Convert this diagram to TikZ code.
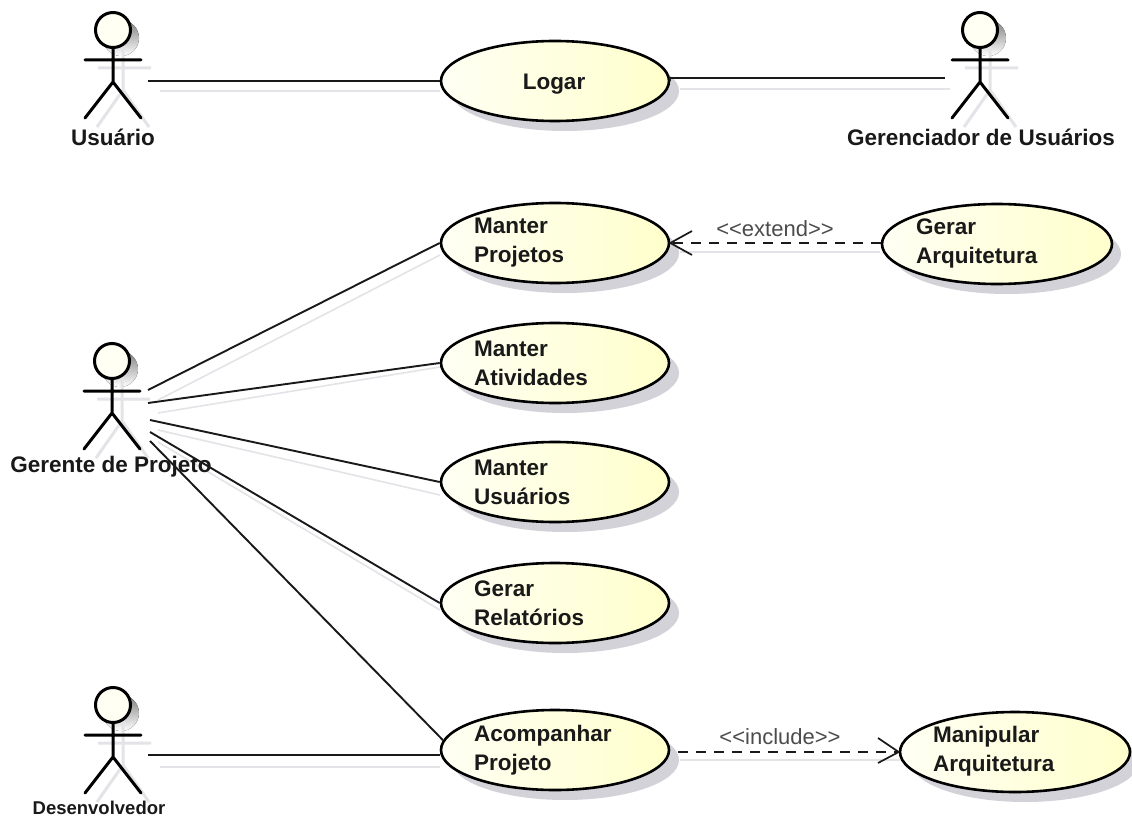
\documentclass[tikz,border=0pt]{standalone}
\usepackage{fontspec}
\setmainfont{Liberation Sans}
\usetikzlibrary{shapes.geometric,arrows.meta,shadings}
\definecolor{ink}{HTML}{000000}
\definecolor{shade}{HTML}{D2D2D8}
\definecolor{conshade}{HTML}{E4E4E8}
\definecolor{creamA}{HTML}{FFFFF4}
\definecolor{creamB}{HTML}{FFFFCC}
\tikzset{
  x=1pt,y=-1pt,
  usecase/.style={ellipse,draw=ink,line width=2.6pt,left color=creamA,right color=creamB,minimum width=228pt,minimum height=80pt,inner sep=0pt},
  ushadow/.style={ellipse,fill=shade,minimum width=228pt,minimum height=80pt,inner sep=0pt},
  uclabel/.style={font=\fontsize{22.5}{29}\selectfont\bfseries,align=left,anchor=west,text=black!90,inner sep=0pt},
  actorbox/.style={minimum width=70pt,minimum height=100pt,inner sep=0pt},
  actorlabel/.style={font=\fontsize{22.5}{26}\selectfont\bfseries,text=black!90,inner sep=0pt},
  assoc/.style={line width=1.9pt,draw=black!90},
  assocsh/.style={line width=1.6pt,draw=conshade},
  dep/.style={line width=1.8pt,draw=black!90,dash pattern=on 10pt off 8pt},
  stereo/.style={font=\fontsize{22}{26}\selectfont,text=black!70,inner sep=0pt},
  openhead/.style={line width=1.7pt,draw=black!90},
  limb/.style={line width=3pt,draw=black,line cap=round},
  limbsh/.style={line width=3pt,draw=conshade},
}
\newcommand{\actorfig}[2]{% x, y of head centre
  \begin{scope}[shift={(#1,#2)}]
    \fill[shade] (8,8) circle (18);
    \draw[limbsh] (10,10)--(10,60) (-15,38)--(38,38) (10,60)--(-16,97) (10,60)--(36,97);
    \draw[limb] (0,17)--(0,52) (-28,30)--(28,30) (0,52)--(-28,88) (0,52)--(28,88);
    \draw[limb,fill=creamA] (0,0) circle (17.5);
  \end{scope}}
\begin{document}
\begin{tikzpicture}
\useasboundingbox (0,0) rectangle (1132,821);
\fill[white] (0,0) rectangle (1132,821);

% shadows of use cases
\foreach \cx/\cy in {565/91,565/253,565/373,565/492,565/613,565/760,1007/254,1025/762}
  \node[ushadow] at (\cx,\cy) {};

% connector shadows
\draw[assocsh] (160,91)--(440,91);
\draw[assocsh] (680,89)--(950,89);
\draw[assocsh] (158,400)--(440,255);
\draw[assocsh] (158,413)--(440,367);
\draw[assocsh] (158,430)--(440,495);
\draw[assocsh] (158,442)--(440,610);
\draw[assocsh] (160,767)--(440,767);
\draw[assocsh] (680,252)--(880,252);
\draw[assocsh] (680,760)--(900,760);

% actors
\actorfig{113}{30}
\actorfig{980}{30}
\actorfig{112}{361}
\actorfig{113}{705}
\node[actorbox] (usuario) at (113,81) {};
\node[actorbox] (gerenciador) at (980,78) {};
\node[actorbox,minimum width=72pt] (gerente) at (112,412) {};
\node[actorbox] (dev) at (113,755) {};
\node[actorlabel] at (113,137) {Usuário};
\node[actorlabel] at (981,137) {Gerenciador de Usuários};
\node[actorlabel] at (111,467) {Gerente de Projeto};
\node[actorlabel,font=\fontsize{18.5}{22}\selectfont\bfseries] at (99,808) {Desenvolvedor};

% use cases
\node[usecase] (logar) at (555,81) {};
\node[usecase] (mp) at (555,243) {};
\node[usecase] (ma) at (555,363) {};
\node[usecase] (mu) at (555,482) {};
\node[usecase] (gr) at (555,603) {};
\node[usecase] (ap) at (555,750) {};
\node[usecase,minimum width=230pt] (ga) at (997,244) {};
\node[usecase,minimum width=230pt] (mq) at (1015,752) {};

\node[uclabel,anchor=center] at (554,84) {Logar};
\node[uclabel] at (474,243) {Manter\\Projetos};
\node[uclabel] at (474,363) {Manter\\Atividades};
\node[uclabel] at (474,482) {Manter\\Usuários};
\node[uclabel] at (474,603) {Gerar\\Relatórios};
\node[uclabel] at (474,750) {Acompanhar\\Projeto};
\node[uclabel] at (916,243) {Gerar\\Arquitetura};
\node[uclabel] at (933,751) {Manipular\\Arquitetura};

% anchors on the gerente fan
\coordinate (g1) at (148,390);
\coordinate (g2) at (148,403);
\coordinate (g3) at (150,420);
\coordinate (g4) at (150,432);
\coordinate (g5) at (150,441);

% associations
\draw[assoc] (usuario.east) -- (logar.west);
\draw[assoc] (logar.east) -- (gerenciador.west -| logar.east) -- (gerenciador.west);
\draw[assoc] (g1) -- (mp.west);
\draw[assoc] (g2) -- (ma.west);
\draw[assoc] (g3) -- (mu.west);
\draw[assoc] (g4) -- (gr.west);
\draw[assoc] (g5) -- (ap.175);
\draw[assoc] (dev.east) -- (dev.east -| ap.west);

% dependencies
\draw[dep] (ga.west |- mp.east) -- (mp.east);
\draw[openhead] (692,231) -- (mp.east) -- (692,255);
\node[stereo] at (775,229) {<{}<extend>{}>};
\coordinate (ie) at ([xshift=8pt]ap.east |- mq.west);
\draw[dep] (ie) -- (mq.west);
\draw[openhead] (878,738) -- (mq.west) -- (878,763);
\node[stereo] at (780,737) {<{}<include>{}>};
\end{tikzpicture}
\end{document}
